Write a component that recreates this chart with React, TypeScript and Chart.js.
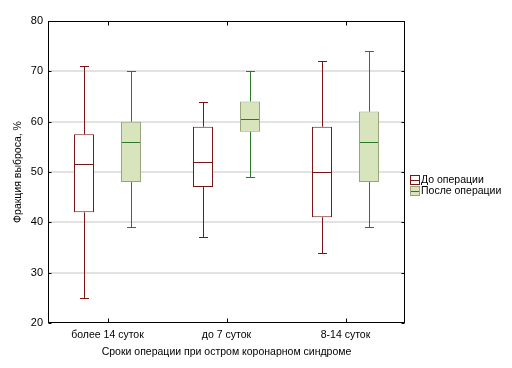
import React, { useEffect, useRef } from "react";
import { Chart, registerables } from "chart.js";

Chart.register(...registerables);

const categories = ["более 14 суток", "до 7 суток", "8-14 суток"];
const seriesLabels = ["До операции", "После операции"];

const beforeMin = [25, 37, 34];
const beforeQ1 = [42, 47, 41];
const beforeMedian = [51.5, 52, 50];
const beforeQ3 = [57.5, 59, 59];
const beforeMax = [71, 64, 72];

const afterMin = [39, 49, 39];
const afterQ1 = [48, 58, 48];
const afterMedian = [56, 60.5, 56];
const afterQ3 = [60, 64, 62];
const afterMax = [70, 70, 74];

const yTicks = [20, 30, 40, 50, 60, 70, 80];

const FONT = "'Liberation Sans', Arial, sans-serif";
const RED = "#7a1416";
const GREEN_LINE = "#2a7a2a";
const GREEN_FILL = "#d8e4bc";
const GREEN_BORDER = "#98a47a";

const stats = [
  { min: beforeMin, q1: beforeQ1, med: beforeMedian, q3: beforeQ3, max: beforeMax, line: RED, median: RED },
  { min: afterMin, q1: afterQ1, med: afterMedian, q3: afterQ3, max: afterMax, line: GREEN_LINE, median: GREEN_LINE },
];

const boxPlugin = {
  id: "boxExtras",
  afterDatasetsDraw(chart: any) {
    const ctx = chart.ctx;
    const y = chart.scales.y;
    const x = chart.scales.x;
    const area = chart.chartArea;
    ctx.save();
    stats.forEach((s, i) => {
      const meta = chart.getDatasetMeta(i);
      meta.data.forEach((el: any, j: number) => {
        const cx = Math.round(el.x) + 0.5;
        const half = el.width / 2;
        const cap = 4.5;
        const pMax = Math.round(y.getPixelForValue(s.max[j])) + 0.5;
        const pMin = Math.round(y.getPixelForValue(s.min[j])) + 0.5;
        const pQ1 = y.getPixelForValue(s.q1[j]);
        const pQ3 = y.getPixelForValue(s.q3[j]);
        const pMed = Math.round(y.getPixelForValue(s.med[j])) + 0.5;
        ctx.strokeStyle = s.line;
        ctx.lineWidth = 1;
        ctx.beginPath();
        ctx.moveTo(cx, pQ3);
        ctx.lineTo(cx, pMax);
        ctx.moveTo(cx - cap, pMax);
        ctx.lineTo(cx + cap, pMax);
        ctx.moveTo(cx, pQ1);
        ctx.lineTo(cx, pMin);
        ctx.moveTo(cx - cap, pMin);
        ctx.lineTo(cx + cap, pMin);
        ctx.stroke();
        ctx.strokeStyle = s.median;
        ctx.beginPath();
        ctx.moveTo(el.x - half + 1, pMed);
        ctx.lineTo(el.x + half - 1, pMed);
        ctx.stroke();
      });
    });

    // frame
    ctx.strokeStyle = "#000";
    ctx.lineWidth = 1;
    const l = Math.round(area.left) + 0.5;
    const r = Math.round(area.right) - 0.5;
    const t = Math.round(area.top) + 0.5;
    const b = Math.round(area.bottom) - 0.5;
    ctx.strokeRect(l, t, r - l, b - t);
    // inward tick marks
    ctx.beginPath();
    categories.forEach((_, k) => {
      const px = Math.round(x.getPixelForValue(k)) + 0.5;
      ctx.moveTo(px, t);
      ctx.lineTo(px, t + 4);
      ctx.moveTo(px, b);
      ctx.lineTo(px, b - 4);
    });
    yTicks.forEach((v) => {
      const py = Math.round(y.getPixelForValue(v)) + 0.5;
      ctx.moveTo(l, py);
      ctx.lineTo(l + 3, py);
      ctx.moveTo(r, py);
      ctx.lineTo(r - 3, py);
    });
    ctx.stroke();

    // legend
    const lx = Math.round(area.right) + 5;
    const rows = [
      { fill: "#ffffff", border: RED, mid: RED },
      { fill: GREEN_FILL, border: GREEN_BORDER, mid: GREEN_LINE },
    ];
    ctx.font = "10.5px " + FONT;
    ctx.textBaseline = "middle";
    ctx.textAlign = "left";
    rows.forEach((row, k) => {
      const cy = 180 + k * 11;
      ctx.fillStyle = row.fill;
      ctx.fillRect(lx + 0.5, cy - 4.5, 9, 9);
      ctx.strokeStyle = row.border;
      ctx.strokeRect(lx + 0.5, cy - 4.5, 9, 9);
      ctx.strokeStyle = row.mid;
      ctx.beginPath();
      ctx.moveTo(lx + 1, cy + 0.5);
      ctx.lineTo(lx + 9, cy + 0.5);
      ctx.stroke();
      ctx.fillStyle = "#000";
      ctx.fillText(seriesLabels[k], lx + 11, cy + 0.5);
    });
    ctx.restore();
  },
};

export default function App() {
  const ref = useRef<HTMLCanvasElement | null>(null);
  useEffect(() => {
    document.body.style.margin = "0";
    const canvas = ref.current;
    if (!canvas) return;
    const chart = new Chart(canvas, {
      type: "bar",
      data: {
        labels: categories,
        datasets: [
          {
            label: seriesLabels[0],
            data: beforeQ1.map((q, i) => [q, beforeQ3[i]]),
            backgroundColor: "#ffffff",
            borderColor: RED,
            borderWidth: 1,
            borderSkipped: false,
          },
          {
            label: seriesLabels[1],
            data: afterQ1.map((q, i) => [q, afterQ3[i]]),
            backgroundColor: GREEN_FILL,
            borderColor: GREEN_BORDER,
            borderWidth: 1,
            borderSkipped: false,
          },
        ],
      },
      options: {
        responsive: false,
        animation: false,
        categoryPercentage: 0.79,
        barPercentage: 0.425,
        layout: { padding: { top: 21, right: 107, bottom: 0, left: 0 } },
        plugins: { legend: { display: false }, tooltip: { enabled: false } },
        scales: {
          x: {
            grid: { display: false, drawTicks: false },
            border: { display: false },
            ticks: { color: "#000", font: { family: FONT, size: 10.5 }, padding: 6 },
            title: {
              display: true,
              text: "Сроки операции при остром коронарном синдроме",
              color: "#000",
              font: { family: FONT, size: 10.5 },
              padding: { top: 0, bottom: 10 },
            },
            afterFit: (s: any) => {
              s.height = 45;
            },
          },
          y: {
            min: 20,
            max: 80,
            grid: {
              drawTicks: false,
              lineWidth: 2,
              color: (c: any) =>
                c.tick && (c.tick.value === 20 || c.tick.value === 80) ? "rgba(0,0,0,0)" : "#e2e2e2",
            },
            border: { display: false },
            afterBuildTicks: (s: any) => {
              s.ticks = yTicks.map((v) => ({ value: v }));
            },
            ticks: { color: "#000", font: { family: FONT, size: 11 }, padding: 5 },
            title: {
              display: true,
              text: "Фракция выброса, %",
              color: "#000",
              font: { family: FONT, size: 10.5 },
              padding: { top: 12, bottom: 0 },
            },
            afterFit: (s: any) => {
              s.width = 48;
            },
          },
        },
      },
      plugins: [boxPlugin],
    });
    return () => chart.destroy();
  }, []);
  return (
    <div style={{ width: 512, height: 368 }}>
      <canvas ref={ref} width={512} height={368} />
    </div>
  );
}
